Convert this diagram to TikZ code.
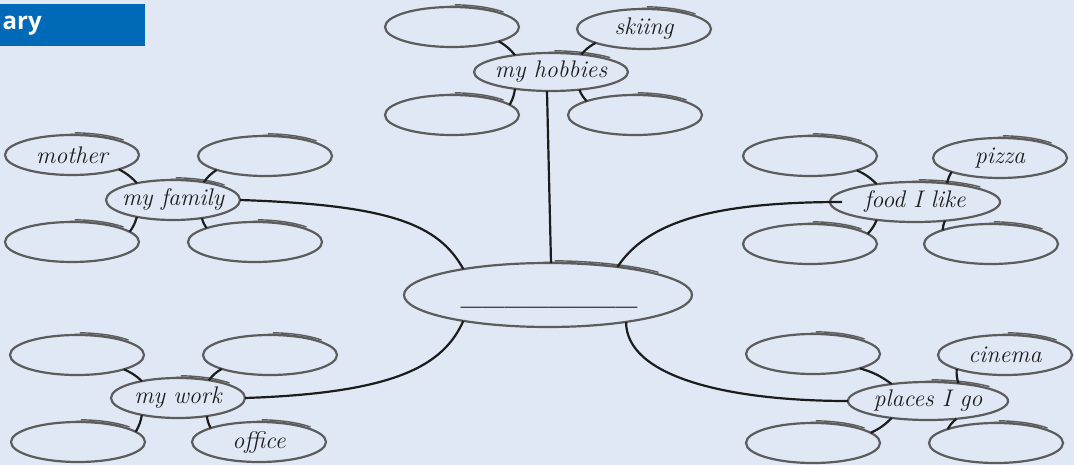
\documentclass[tikz,border=0pt]{standalone}
\usepackage{fontspec}
\newfontfamily\tabfont{Open Sans}
\usepackage{tikz}
\usetikzlibrary{shapes.geometric,calc}
\usepackage{xcolor}
\definecolor{paper}{RGB}{224,231,245}
\definecolor{tabblue}{RGB}{0,106,184}
\definecolor{rim}{RGB}{92,92,92}
\definecolor{ink}{RGB}{28,28,28}
\tikzset{
    bubble/.style={
        ellipse,
        draw=rim,
        line width=2.2pt,
        minimum width=134pt,
        minimum height=40pt,
        inner xsep=-6pt,
        inner ysep=0pt,
        outer sep=0pt,
        text=ink,
        font=\itshape\fontsize{24}{27}\selectfont
    },
    shine/.style={draw=rim, line width=1.4pt, line cap=round},
    twig/.style={draw=ink, line width=2.2pt},
    branch/.style={draw=ink, line width=2.2pt},
    tab/.style={
        fill=tabblue,
        text=white,
        font=\tabfont\bfseries\fontsize{24}{28}\selectfont,
        minimum height=42pt,
        text width=140pt,
        inner xsep=2.5pt,
        inner ysep=0pt,
        align=left
    }
}
% double stroke along the top of a bubble
\newcommand{\hilite}[3]{
    \draw[shine] ($(#1.center)+({0.05*#2},{-#3-2.2})$)
        arc[start angle=87,end angle=40,x radius=#2 pt,y radius=#3 pt];
    \draw[shine] ($(#1.center)+({-0.03*#2},{-#3-0.6})$)
        arc[start angle=92,end angle=50,x radius=#2 pt,y radius=#3 pt];
}
\begin{document}
\begin{tikzpicture}[x=1pt,y=-1pt]
    \useasboundingbox (0,0) rectangle (1074,465);
    \fill[paper] (0,0) rectangle (1074,465);
    \node[tab,anchor=north west] (tab) at (0,4) {ary};
    % centre
    \node[bubble,minimum width=288pt,minimum height=64pt] (topic) at (548,295) {};
    \node[inner sep=0pt,text=ink,font=\bfseries\fontsize{26}{30}\selectfont,anchor=base]
        (blank) at (549,305) {\_\_\_\_\_\_\_\_};
    % hubs
    \node[bubble] (family) at (173,200) {my family};
    \node[bubble,minimum width=154pt,minimum height=38pt] (hobbies) at (551,72) {my hobbies};
    \node[bubble,minimum width=170pt] (food) at (915,202) {food I like};
    \node[bubble] (work) at (178,398) {my work};
    \node[bubble,minimum width=160pt,minimum height=38pt] (places) at (928,401) {places I go};
    % satellites
    \node[bubble] (mother) at (72,155) {mother};
    \node[bubble] (famTR) at (265,156) {};
    \node[bubble] (famBL) at (72,242) {};
    \node[bubble] (famBR) at (255,242) {};
    \node[bubble] (hobTL) at (452,27) {};
    \node[bubble] (skiing) at (644,29) {skiing};
    \node[bubble] (hobBL) at (452,115) {};
    \node[bubble] (hobBR) at (635,115) {};
    \node[bubble] (foodTL) at (810,156) {};
    \node[bubble] (pizza) at (1000,158) {pizza};
    \node[bubble] (foodBL) at (810,244) {};
    \node[bubble] (foodBR) at (991,244) {};
    \node[bubble] (workTL) at (77,355) {};
    \node[bubble] (workTR) at (270,355) {};
    \node[bubble] (workBL) at (78,442) {};
    \node[bubble] (office) at (259,442) {office};
    \node[bubble] (plTL) at (813,354) {};
    \node[bubble] (cinema) at (1005,355) {cinema};
    \node[bubble] (plBL) at (813,443) {};
    \node[bubble] (plBR) at (996,443) {};
    % highlights
    \foreach \n in {mother,famTR,famBL,famBR,hobTL,skiing,hobBL,hobBR,
        foodTL,pizza,foodBL,foodBR,workTL,workTR,workBL,office,
        plTL,cinema,plBL,plBR}
        {\hilite{\n}{67}{20}}
    \foreach \n/\rx/\ry in {family/67/20,hobbies/77/19,food/85/20,
        work/67/20,places/80/19,topic/144/32}
        {\hilite{\n}{\rx}{\ry}}
    % branches to the centre
    \draw[branch] ([xshift=-4pt]hobbies.south) -- ([xshift=3pt]topic.north);
    \draw[branch] (family.east) .. controls +(150,5) and +(-25,-45) .. (topic.163);
    \draw[branch] (topic.22) .. controls +(30,-45) and +(-130,0) .. ([xshift=12pt]food.west);
    \draw[branch] (work.east) .. controls +(150,-5) and +(-20,45) .. (topic.197);
    \draw[branch] (topic.-19) .. controls +(0,55) and +(-120,0) .. (places.west);
    % twigs to the satellites
    \foreach \hub/\tl/\tr/\bl/\br in {family/mother/famTR/famBL/famBR,
        hobbies/hobTL/skiing/hobBL/hobBR,food/foodTL/pizza/foodBL/foodBR,
        work/workTL/workTR/workBL/office,places/plTL/cinema/plBL/plBR} {
        \draw[twig] (\tl.-17) to[bend left=10] (\hub.155);
        \draw[twig] (\tr.196) to[bend right=10] (\hub.30);
        \draw[twig] (\bl.10) to[bend right=10] (\hub.205);
        \draw[twig] (\br.164) to[bend left=10] (\hub.-32);
    }
\end{tikzpicture}
\end{document}
